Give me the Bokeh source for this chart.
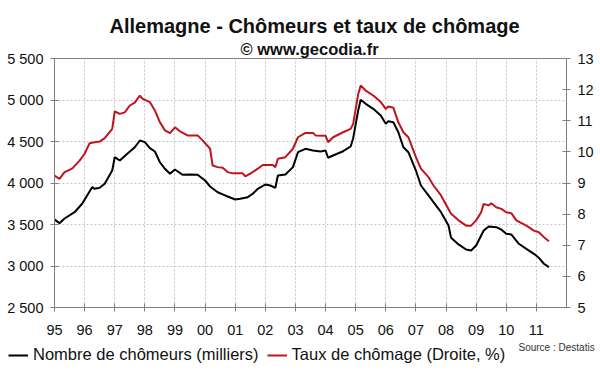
import numpy as np
from bokeh.plotting import figure
from bokeh.models import (Range1d, LinearAxis, FixedTicker, Label, Legend, LegendItem, Title)
from bokeh.layouts import column, row
from bokeh.embed import file_html
from bokeh.resources import INLINE

# ---- data ----
black_months = ["1995-01", "1995-03", "1995-05", "1995-09", "1995-12", "1996-02", "1996-04", "1996-05",
                "1996-07", "1996-09", "1996-12", "1997-01", "1997-03", "1997-06", "1997-09", "1997-11",
                "1998-01", "1998-03", "1998-05", "1998-07", "1998-09", "1998-11", "1999-01", "1999-04",
                "1999-07", "1999-10", "2000-01", "2000-03", "2000-06", "2000-09", "2001-01", "2001-03",
                "2001-06", "2001-08", "2001-10", "2002-01", "2002-03", "2002-05", "2002-06", "2002-09",
                "2002-12", "2003-02", "2003-05", "2003-08", "2003-11", "2004-01", "2004-02", "2004-04",
                "2004-08", "2004-11", "2004-12", "2005-02", "2005-03", "2005-05", "2005-08", "2005-11",
                "2006-01", "2006-02", "2006-04", "2006-06", "2006-08", "2006-10", "2007-01", "2007-03",
                "2007-06", "2007-08", "2007-11", "2008-02", "2008-03", "2008-06", "2008-09", "2008-11",
                "2009-01", "2009-04", "2009-06", "2009-09", "2009-11", "2010-01", "2010-03", "2010-06",
                "2010-09", "2010-12", "2011-02", "2011-04", "2011-06"]
chomeurs = [3560, 3516, 3572, 3648, 3750, 3850, 3950, 3930,
            3942, 3990, 4150, 4311, 4271, 4352, 4431, 4512,
            4492, 4420, 4380, 4250, 4171, 4111, 4163, 4099,
            4103, 4099, 4030, 3958, 3889, 3850, 3801, 3810,
            3829, 3870, 3930, 3982, 3970, 3942, 4090, 4103,
            4191, 4371, 4412, 4392, 4380, 4392, 4304, 4331,
            4383, 4440, 4540, 4874, 5003, 4954, 4894, 4814,
            4713, 4745, 4733, 4612, 4431, 4371, 4150, 3970,
            3850, 3769, 3648, 3488, 3340, 3260, 3199, 3187,
            3247, 3428, 3476, 3468, 3440, 3388, 3380, 3268,
            3207, 3147, 3099, 3027, 2986]

red_months = ["1995-01", "1995-03", "1995-05", "1995-08", "1995-11", "1996-01", "1996-03", "1996-05",
              "1996-07", "1996-09", "1996-12", "1997-01", "1997-03", "1997-05", "1997-07", "1997-09",
              "1997-11", "1997-12", "1998-03", "1998-05", "1998-07", "1998-09", "1998-11", "1999-01",
              "1999-03", "1999-06", "1999-10", "1999-12", "2000-03", "2000-04", "2000-06", "2000-08",
              "2000-10", "2000-12", "2001-04", "2001-05", "2001-07", "2001-10", "2001-12", "2002-04",
              "2002-05", "2002-06", "2002-09", "2002-12", "2003-02", "2003-05", "2003-08", "2003-09",
              "2004-01", "2004-02", "2004-04", "2004-08", "2004-11", "2004-12", "2005-02", "2005-03",
              "2005-05", "2005-08", "2005-11", "2006-01", "2006-02", "2006-04", "2006-06", "2006-08",
              "2006-10", "2007-01", "2007-03", "2007-06", "2007-08", "2007-11", "2008-03", "2008-06",
              "2008-09", "2008-11", "2009-01", "2009-03", "2009-04", "2009-06", "2009-07", "2009-09",
              "2009-11", "2010-01", "2010-03", "2010-05", "2010-09", "2010-12", "2011-02", "2011-04",
              "2011-06"]
taux = [9.24, 9.13, 9.35, 9.46, 9.72, 9.94, 10.28, 10.31,
        10.33, 10.44, 10.74, 11.30, 11.22, 11.27, 11.49, 11.58,
        11.81, 11.71, 11.60, 11.33, 10.95, 10.69, 10.60, 10.79,
        10.66, 10.53, 10.53, 10.37, 10.10, 9.56, 9.51, 9.49,
        9.35, 9.31, 9.31, 9.21, 9.30, 9.46, 9.58, 9.58,
        9.51, 9.78, 9.83, 10.10, 10.47, 10.61, 10.61, 10.53,
        10.52, 10.31, 10.47, 10.63, 10.74, 10.90, 11.85, 12.13,
        11.97, 11.81, 11.60, 11.38, 11.46, 11.42, 10.95, 10.63,
        10.47, 9.83, 9.46, 9.19, 8.92, 8.60, 8.01, 7.80,
        7.63, 7.63, 7.80, 8.06, 8.33, 8.28, 8.35, 8.22,
        8.17, 8.06, 8.03, 7.80, 7.63, 7.47, 7.42, 7.26,
        7.13]

year_ticks = list(range(1995, 2012))
year_labels = ["95", "96", "97", "98", "99", "00", "01", "02", "03", "04", "05", "06", "07", "08", "09", "10", "11"]
left_ticks = [2500, 3000, 3500, 4000, 4500, 5000, 5500]
left_labels = ["2 500", "3 000", "3 500", "4 000", "4 500", "5 000", "5 500"]
right_ticks = [5, 6, 7, 8, 9, 10, 11, 12, 13]

title_text = "Allemagne - Chômeurs et taux de chômage"
subtitle_text = "© www.gecodia.fr"
source_text = "Source : Destatis"
legend_black = "Nombre de chômeurs (milliers)"
legend_red = "Taux de chômage (Droite, %)"


def to_year(s):
    y, m = s.split("-")
    return int(y) + (int(m) - 1) / 12.0


bx = [to_year(s) for s in black_months]
rx = [to_year(s) for s in red_months]

FONT = "Liberation Sans"
AXC = "#808080"
RED = "#c0141c"
TXT = "#111111"

# ---- main chart ----
p = figure(frame_width=512, frame_height=249, output_backend="svg", toolbar_location=None,
           x_range=Range1d(1995, 2012), y_range=Range1d(2500, 5500),
           min_border_left=54, min_border_right=34, min_border_top=58, min_border_bottom=34,
           background_fill_color="white", border_fill_color="white", title=title_text)
p.outline_line_color = AXC
p.outline_line_width = 1

# main title (outer) and subtitle (nearest the frame)
p.title.align = "left"
p.title.offset = 55
p.title.standoff = 1
p.title.text_font = FONT
p.title.text_font_size = "20px"
p.title.text_font_style = "bold"
p.title.text_color = TXT
p.add_layout(Title(text=subtitle_text, align="left", offset=186, standoff=1, text_font=FONT,
                   text_font_size="16.5px", text_font_style="bold", text_color=TXT), "above")

p.extra_y_ranges = {"rate": Range1d(5, 13)}

p.xaxis.ticker = FixedTicker(ticks=year_ticks)
p.xaxis.major_label_overrides = {t: l for t, l in zip(year_ticks, year_labels)}
p.yaxis.ticker = FixedTicker(ticks=left_ticks)
p.yaxis.major_label_overrides = {t: l for t, l in zip(left_ticks, left_labels)}

ra = LinearAxis(y_range_name="rate", ticker=FixedTicker(ticks=right_ticks))
p.add_layout(ra, "right")

for ax in [p.xaxis[0], p.yaxis[0], ra]:
    ax.axis_line_color = AXC
    ax.axis_line_width = 1
    ax.major_tick_line_color = AXC
    ax.major_tick_in = 4
    ax.major_tick_out = 4
    ax.minor_tick_line_color = None
    ax.major_label_text_font = FONT
    ax.major_label_text_font_size = "14.5px"
    ax.major_label_text_color = TXT
    ax.major_label_standoff = 7
p.xaxis.major_label_standoff = 13

p.xgrid.ticker = FixedTicker(ticks=year_ticks)
p.ygrid.ticker = FixedTicker(ticks=left_ticks)
for g in [p.xgrid[0], p.ygrid[0]]:
    g.grid_line_color = "#c4c4c4"
    g.grid_line_dash = "2 2"
    g.grid_line_width = 1

rl = p.line(rx, taux, y_range_name="rate", line_color=RED, line_width=2)
bl = p.line(bx, chomeurs, line_color="black", line_width=2)

# ---- footer (legend + source) ----
bot = figure(frame_width=600, frame_height=31, output_backend="svg", toolbar_location=None,
             x_range=Range1d(0, 1), y_range=Range1d(0, 1), x_axis_type=None, y_axis_type=None,
             min_border=0, min_border_left=0, min_border_right=0, min_border_top=0, min_border_bottom=0)
bot.outline_line_color = None
bot.background_fill_color = "white"
bot.border_fill_color = "white"
# legend keys: same line styles as the two series (no visible data of their own)
nan2 = np.array([np.nan, np.nan])
lb = bot.line(nan2, nan2, line_color="black", line_width=2)
lr = bot.line(nan2, nan2, line_color=RED, line_width=2)
legend = Legend(items=[LegendItem(label=legend_black, renderers=[lb]),
                       LegendItem(label=legend_red, renderers=[lr])],
                location=(8, 8), orientation="horizontal",
                label_text_font=FONT, label_text_font_size="16.5px", label_text_color=TXT,
                glyph_width=20, glyph_height=18, label_standoff=5, spacing=8,
                padding=0, margin=0, border_line_color=None, background_fill_alpha=0)
bot.add_layout(legend, "center")
bot.add_layout(Label(x=518, y=25, x_units="screen", y_units="screen", text=source_text,
                     text_align="left", text_baseline="middle", text_font=FONT,
                     text_font_size="10px", text_color="#333333"))

layout = column(p, row(bot), spacing=0)
open("out.html", "w").write(file_html(layout, INLINE))
